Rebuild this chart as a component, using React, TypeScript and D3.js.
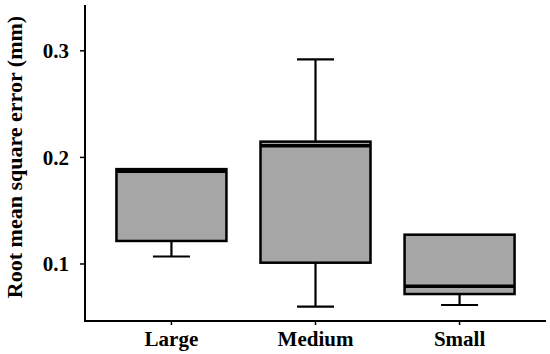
import React from 'react';
import * as d3 from 'd3';

// box statistics
const categories = ['Large', 'Medium', 'Small'];
const whiskerLow = [0.107, 0.060, 0.0615];
const q1 = [0.1216, 0.1012, 0.0718];
const median = [0.187, 0.211, 0.079];
const q3 = [0.189, 0.2148, 0.1275];
const whiskerHigh = [0.189, 0.292, 0.1275];
const yTicks = [0.1, 0.2, 0.3];

const W = 550;
const H = 354;
const margin = { top: 5, right: 4, bottom: 33, left: 85 };

const App = () => {
  const x = d3.scalePoint<string>()
    .domain(categories)
    .range([margin.left, W - margin.right])
    .padding(0.6);
  const y = d3.scaleLinear()
    .domain([0.0465, 0.343])
    .range([H - margin.bottom, margin.top]);

  const boxW = 110;
  const capW = 37;
  const font = '"Liberation Serif", "Times New Roman", serif';

  return (
    <svg width={W} height={H} style={{ position: 'absolute', left: 0, top: 0 }}>
      <rect width={W} height={H} fill="#fff" />
      {categories.map((c, i) => {
        const cx = x(c)!;
        return (
          <g key={c} stroke="#000">
            {whiskerHigh[i] > q3[i] && (
              <>
                <line x1={cx} x2={cx} y1={y(q3[i])} y2={y(whiskerHigh[i])} strokeWidth={2.2} />
                <line x1={cx - capW / 2} x2={cx + capW / 2} y1={y(whiskerHigh[i])} y2={y(whiskerHigh[i])} strokeWidth={2.2} />
              </>
            )}
            <line x1={cx} x2={cx} y1={y(q1[i])} y2={y(whiskerLow[i])} strokeWidth={2.2} />
            <line x1={cx - capW / 2} x2={cx + capW / 2} y1={y(whiskerLow[i])} y2={y(whiskerLow[i])} strokeWidth={2.2} />
            <rect
              x={cx - boxW / 2}
              y={y(q3[i])}
              width={boxW}
              height={y(q1[i]) - y(q3[i])}
              fill="#a6a6a6"
              strokeWidth={2.5}
            />
            <line x1={cx - boxW / 2} x2={cx + boxW / 2} y1={y(median[i])} y2={y(median[i])} strokeWidth={3.5} />
          </g>
        );
      })}

      {/* axes */}
      <line x1={margin.left} x2={margin.left} y1={margin.top} y2={H - margin.bottom} stroke="#000" strokeWidth={2} />
      <line x1={margin.left - 1} x2={W - margin.right} y1={H - margin.bottom} y2={H - margin.bottom} stroke="#000" strokeWidth={2} />

      {yTicks.map(t => (
        <g key={t}>
          <line x1={margin.left - 5} x2={margin.left} y1={y(t)} y2={y(t)} stroke="#000" strokeWidth={1.5} />
          <text
            x={margin.left - 16}
            y={y(t)}
            dy="0.35em"
            textAnchor="end"
            fontFamily={font}
            fontWeight="bold"
            fontSize={21}
          >
            {t.toFixed(1)}
          </text>
        </g>
      ))}

      {categories.map(c => (
        <g key={c}>
          <line x1={x(c)} x2={x(c)} y1={H - margin.bottom} y2={H - margin.bottom + 4} stroke="#000" strokeWidth={1.5} />
          <text
            x={x(c)}
            y={H - 8}
            textAnchor="middle"
            fontFamily={font}
            fontWeight="bold"
            fontSize={21}
          >
            {c}
          </text>
        </g>
      ))}

      <text
        transform={`translate(22,157) rotate(-90)`}
        textAnchor="middle"
        fontFamily={font}
        fontWeight="bold"
        fontSize={22}
      >
        Root mean square error (mm)
      </text>
    </svg>
  );
};

export default App;
